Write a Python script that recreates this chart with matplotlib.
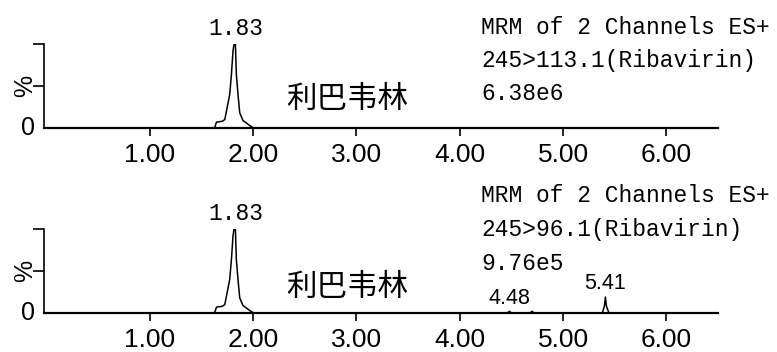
import matplotlib.pyplot as plt

# retention time (min) and relative intensity (%) for each MRM channel
rt_top = [0.0, 1.62, 1.63, 1.645, 1.70, 1.725, 1.773, 1.789, 1.805, 1.815,
          1.828, 1.837, 1.853, 1.870, 1.901, 1.966, 1.998, 2.01, 6.5]
int_top = [0, 0, 1.5, 7, 8, 10, 40, 63, 92, 100,
           100, 64, 40, 18, 9, 3, 0.5, 0, 0]

rt_bottom = [0.0, 1.62, 1.63, 1.645, 1.70, 1.725, 1.773, 1.789, 1.805, 1.815,
             1.828, 1.837, 1.853, 1.870, 1.901, 1.966, 1.998, 2.01,
             4.46, 4.48, 4.50, 4.68, 4.70, 4.72,
             5.38, 5.40, 5.41, 5.42, 5.445, 6.5]
int_bottom = [0, 0, 1.5, 7, 8, 10, 40, 63, 92, 100,
              100, 64, 40, 18, 9, 3, 0.5, 0,
              0, 2, 0, 0, 2, 0,
              0, 8, 19, 8, 0, 0]

peak_labels_top = [(1.83, "1.83")]
peak_labels_bottom = [(1.83, "1.83"), (4.48, "4.48"), (5.41, "5.41")]

info_top = ["MRM of 2 Channels ES+", "245>113.1(Ribavirin)", "6.38e6"]
info_bottom = ["MRM of 2 Channels ES+", "245>96.1(Ribavirin)", "9.76e5"]

compound = "利巴韦林"
xticks = [1.0, 2.0, 3.0, 4.0, 5.0, 6.0]

W, H = 777, 352
MONO = "Liberation Mono"
SANS = "Liberation Sans"
CJK = ["Noto Sans CJK SC", "DejaVu Sans"]


def draw_panel(fig, base_px, rt, inten, labels, info, info_y, cjk_y):
    ax = fig.add_axes([44 / W, (H - base_px) / H, (718 - 44) / W, 84 / H])
    ax.plot(rt, inten, color="black", lw=1.1)
    ax.set_xlim(-0.025, 6.5)
    ax.set_ylim(0, 100)
    for side in ["top", "right"]:
        ax.spines[side].set_visible(False)
    ax.spines["bottom"].set_linewidth(1.6)
    ax.spines["left"].set_linewidth(1.2)
    ax.set_xticks(xticks)
    ax.set_xticklabels([f"{t:.2f}" for t in xticks], fontfamily=SANS,
                       fontsize=19)
    ax.tick_params(axis="x", direction="out", length=6, width=1.2, pad=5)
    ax.set_yticks([50, 100])
    ax.set_yticklabels([])
    ax.tick_params(axis="y", direction="out", length=8, width=1.2)
    ax.patch.set_visible(False)

    for x, lab in labels:
        y = max(v for r, v in zip(rt, inten) if abs(r - x) < 0.05)
        if x < 2:
            ax.annotate(lab, (x, y), xytext=(0, 3), textcoords="offset points",
                        ha="center", va="bottom", fontfamily=MONO, fontsize=16.5)
        else:
            ax.annotate(lab, (x, y), xytext=(0, 2), textcoords="offset points",
                        ha="center", va="bottom", fontfamily=SANS, fontsize=15.5)

    fig.text(25 / W, (H - (base_px - 42)) / H, "%", rotation=90, ha="center",
             va="center", fontfamily=SANS, fontsize=18)
    fig.text(28 / W, (H - base_px) / H, "0", ha="center", va="center",
             fontfamily=SANS, fontsize=18)
    for k, line in enumerate(info):
        fig.text(481 / W, (H - (info_y + 33.5 * k)) / H, line, ha="left",
                 va="center", fontfamily=MONO, fontsize=16.5)
    fig.text(347 / W, (H - cjk_y) / H, compound, ha="center", va="center",
             fontfamily=CJK, fontsize=22)


fig = plt.figure(figsize=(W / 100, H / 100), dpi=100)
draw_panel(fig, 128, rt_top, int_top, peak_labels_top, info_top, 27, 99)
draw_panel(fig, 313, rt_bottom, int_bottom, peak_labels_bottom, info_bottom, 196, 287)
fig.savefig("out.png", dpi=100)
